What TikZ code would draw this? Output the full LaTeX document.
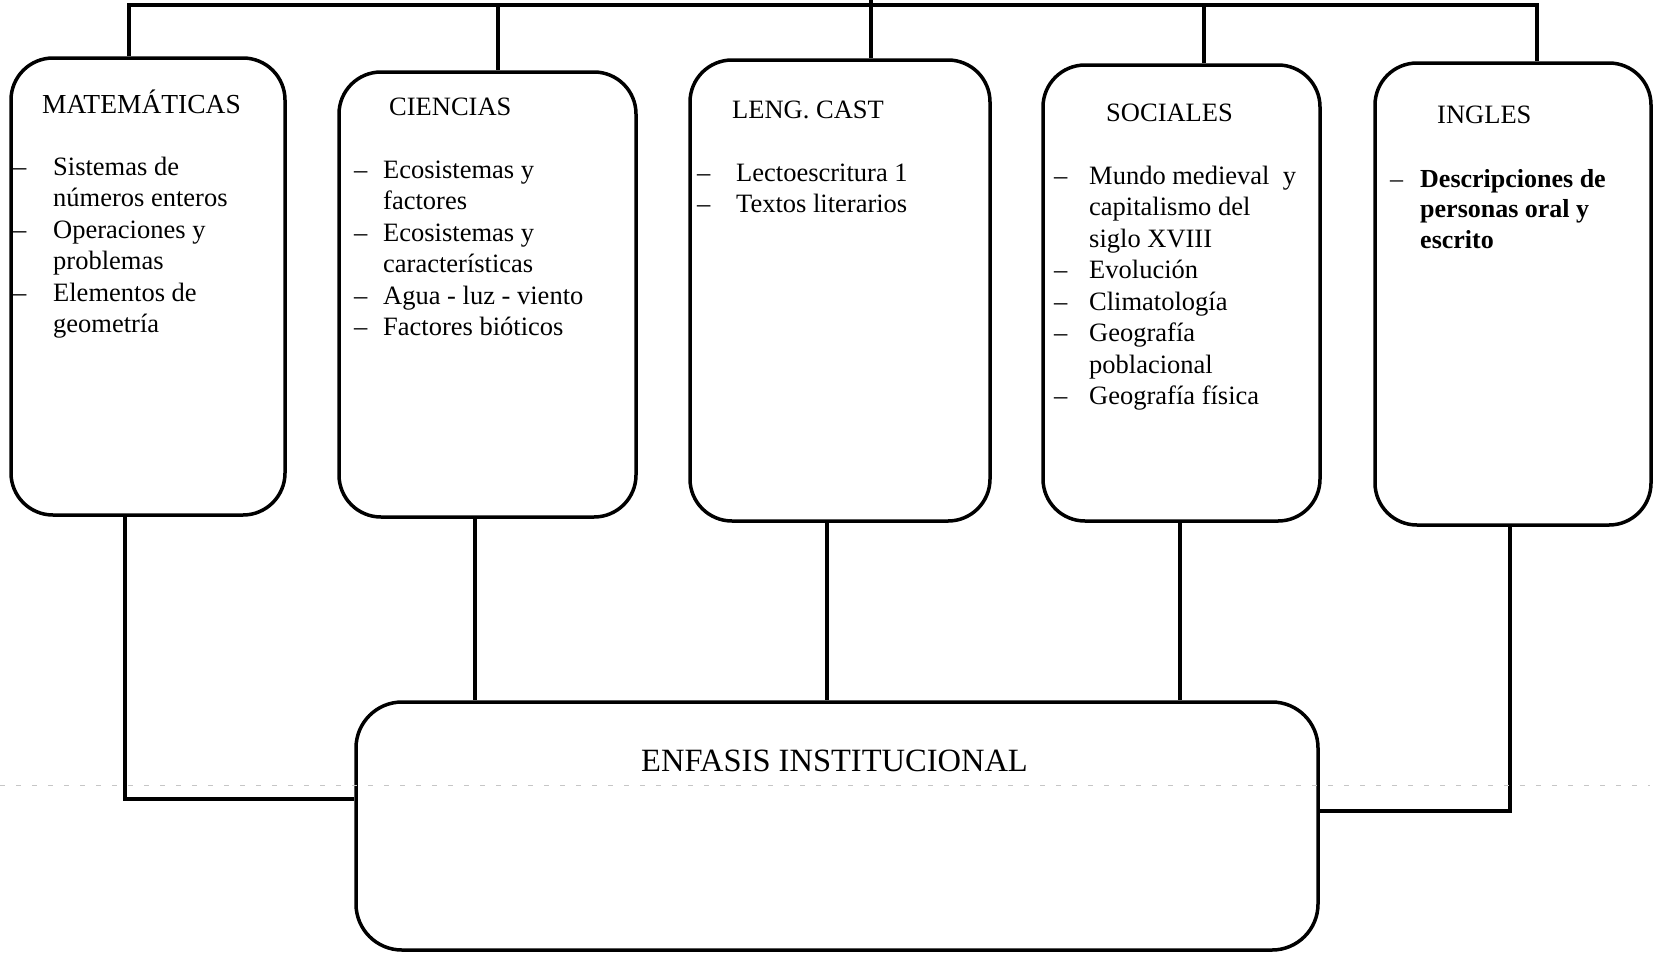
\documentclass[tikz,border=0pt]{standalone}
\usepackage{fontspec}
\setmainfont{Liberation Serif}
\begin{document}
\begin{tikzpicture}[x=1pt,y=-1pt,
  box/.style={draw, line width=3.5pt, rounded corners=42pt, inner sep=0pt},
  conn/.style={line width=3.5pt},
  ttl/.style={anchor=base west, inner sep=0pt, font=\fontsize{26.5}{31.5}\selectfont},
  body/.style={anchor=base west, inner sep=0pt, font=\fontsize{26.5}{31.5}\selectfont},
  scan/.style={gray!45, line width=1pt, dash pattern=on 5pt off 11pt}]
\useasboundingbox (0,0) rectangle (1656,956);

% boxes
\node[box, minimum width=274pt, minimum height=457pt] (mat) at (148,286.5) {};
\node[box, minimum width=297pt, minimum height=445pt] (cien) at (487.5,294.5) {};
\node[box, minimum width=300pt, minimum height=461pt] (leng) at (840,290.5) {};
\node[box, minimum width=277pt, minimum height=456pt] (soc) at (1181.5,293) {};
\node[box, minimum width=276pt, minimum height=462pt] (ing) at (1513,294) {};
\node[box, rounded corners=46pt, minimum width=962pt, minimum height=248pt] (enf) at (837,826) {};

% top bar
\coordinate (tm) at (129,5);
\coordinate (tc) at (498,5);
\coordinate (tl) at (871,5);
\coordinate (ts) at (1204,5);
\coordinate (ti) at (1537,5);
\coordinate (top) at (871,0);
\draw[conn] (tm |- mat.north) -- (tm) -- (ti) -- (ti |- ing.north);
\draw[conn] (tc) -- (tc |- cien.north);
\draw[conn] (top) -- (top |- leng.north);
\draw[conn] (ts) -- (ts |- soc.north);

% lower connectors
\coordinate (bm) at (125,799);
\coordinate (bc) at (475,0);
\coordinate (bl) at (827,0);
\coordinate (bs) at (1180,0);
\coordinate (bi) at (1510,811);
\draw[conn] (bm |- mat.south) -- (bm) -- (bm -| enf.west);
\draw[conn] (bc |- cien.south) -- (bc |- enf.north);
\draw[conn] (bl |- leng.south) -- (bl |- enf.north);
\draw[conn] (bs |- soc.south) -- (bs |- enf.north);
\draw[conn] (bi |- ing.south) -- (bi) -- (bi -| enf.east);

% faint scan line
\draw[scan] (0,785) -- (1650,785);

% titles
\node[ttl, font=\fontsize{27.5}{31.5}\selectfont] (matt) at (42,113) {MATEMÁTICAS};
\node[ttl] (cient) at (389,115) {CIENCIAS};
\node[ttl] (lengt) at (732,118) {LENG. CAST};
\node[ttl] (soct) at (1106,121) {SOCIALES};
\node[ttl] (ingt) at (1437,123) {INGLES};
\node[ttl, font=\fontsize{32.5}{38}\selectfont] (enft) at (641,771) {ENFASIS INSTITUCIONAL};

% bodies
\node[body] (matb) at (13,175) {\begin{tabular}[t]{@{}p{40pt}@{}l@{}}
– & Sistemas de\\
  & números enteros\\
– & Operaciones y\\
  & problemas\\
– & Elementos de\\
  & geometría
\end{tabular}};
\node[body] (cienb) at (354,178) {\begin{tabular}[t]{@{}p{29pt}@{}l@{}}
– & Ecosistemas y\\
  & factores\\
– & Ecosistemas y\\
  & características\\
– & Agua - luz - viento\\
– & Factores bióticos
\end{tabular}};
\node[body] (lengb) at (697,181) {\begin{tabular}[t]{@{}p{39pt}@{}l@{}}
– & Lectoescritura 1\\
– & Textos literarios
\end{tabular}};
\node[body] (socb) at (1054,184) {\begin{tabular}[t]{@{}p{35pt}@{}l@{}}
– & Mundo medieval \ y\\
  & capitalismo del\\
  & siglo XVIII\\
– & Evolución\\
– & Climatología\\
– & Geografía\\
  & poblacional\\
– & Geografía física
\end{tabular}};
\node[body, font=\fontsize{26}{30.5}\selectfont\bfseries] (ingb) at (1390,187) {\begin{tabular}[t]{@{}p{30pt}@{}l@{}}
\mdseries – & Descripciones de\\
  & personas oral y\\
  & escrito
\end{tabular}};
\end{tikzpicture}
\end{document}
